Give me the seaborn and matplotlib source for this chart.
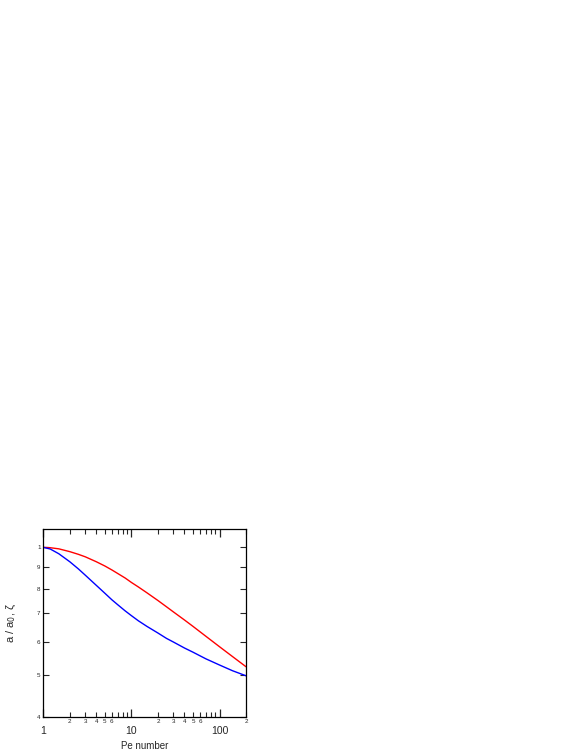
import numpy as np
import matplotlib
matplotlib.use("Agg")
import matplotlib.pyplot as plt
import matplotlib.ticker as mticker
import seaborn as sns
import pandas as pd

# values
pe = [1, 1.2, 1.5, 2, 2.5, 3, 4, 5, 6, 7, 8.5, 10, 12, 15, 20, 25, 30, 40,
      50, 70, 100, 140, 200]
red_vals = [1.000, 0.998, 0.992, 0.977, 0.963, 0.950, 0.925, 0.904, 0.885,
            0.868, 0.847, 0.827, 0.807, 0.782, 0.750, 0.725, 0.705, 0.675,
            0.652, 0.618, 0.584, 0.554, 0.524]
blue_vals = [1.000, 0.991, 0.966, 0.925, 0.890, 0.860, 0.814, 0.780, 0.753,
             0.733, 0.709, 0.691, 0.672, 0.652, 0.629, 0.611, 0.599, 0.580,
             0.567, 0.547, 0.529, 0.513, 0.499]

y_ticks = [0.4, 0.5, 0.6, 0.7, 0.8, 0.9, 1.0]
y_labels = ["4", "5", "6", "7", "8", "9", "1"]
x_major = [1, 10, 100]
x_major_labels = ["1", "10", "100"]
x_minor = [2, 3, 4, 5, 6, 7, 8, 9, 20, 30, 40, 50, 60, 70, 80, 90, 200]
x_minor_labels = ["2", "3", "4", "5", "6", "", "", "",
                  "2", "3", "4", "5", "6", "", "", "", "2"]

df = pd.DataFrame({"Pe": pe + pe,
                   "val": red_vals + blue_vals,
                   "curve": ["a"] * len(pe) + ["zeta"] * len(pe)})

sns.set_style("ticks")
plt.rcParams['font.family'] = ['Liberation Sans', 'DejaVu Sans']

fig = plt.figure(figsize=(5.81, 7.52), dpi=100)
ax = fig.add_axes([0.0745, 0.047, 0.349, 0.249])

sns.lineplot(data=df, x="Pe", y="val", hue="curve",
             palette={"a": "#ff0000", "zeta": "#0000ff"},
             linewidth=1.0, legend=False, ax=ax, sort=True)

ax.set_xscale("log")
ax.set_yscale("log")
ax.set_xlim(1, 200)
ax.set_ylim(0.4, 1.102)

ax.xaxis.set_major_locator(mticker.FixedLocator(x_major))
ax.xaxis.set_major_formatter(mticker.FixedFormatter(x_major_labels))
ax.xaxis.set_minor_locator(mticker.FixedLocator(x_minor))
ax.xaxis.set_minor_formatter(mticker.FixedFormatter(x_minor_labels))

ax.yaxis.set_major_locator(mticker.FixedLocator(y_ticks))
ax.yaxis.set_major_formatter(mticker.FixedFormatter(y_labels))
ax.yaxis.set_minor_locator(mticker.NullLocator())

ax.tick_params(axis="x", which="major", direction="in", length=6, width=0.9,
               labelsize=7.5, pad=7, top=True, bottom=True)
ax.tick_params(axis="x", which="minor", direction="in", length=3.5, width=0.8,
               labelsize=4.5, pad=2, top=True, bottom=True)
ax.tick_params(axis="y", which="major", direction="in", length=4, width=0.8,
               labelsize=4.5, pad=2, left=True, right=True)

for s in ax.spines.values():
    s.set_linewidth(0.9)
    s.set_color("black")

ax.set_xlabel("Pe number", fontsize=7, labelpad=3)
ax.set_ylabel("a / a$_0$, ζ", fontsize=8, labelpad=14)

fig.savefig("out.png", dpi=100)
